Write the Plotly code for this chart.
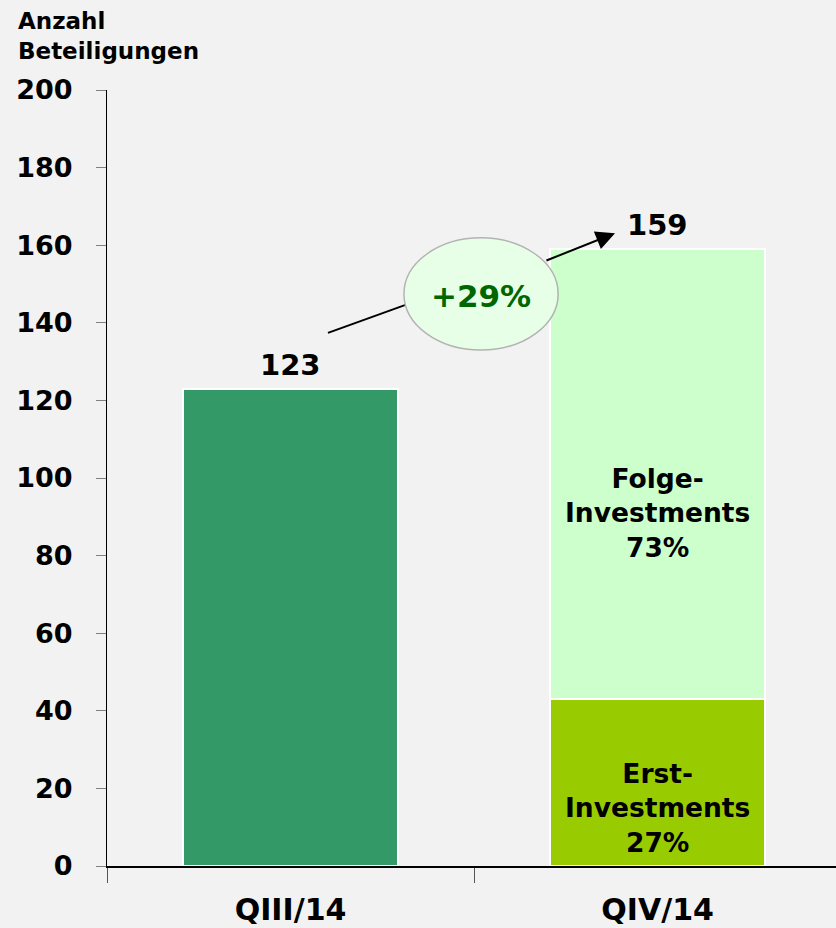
import plotly.graph_objects as go

categories = ["QIII/14", "QIV/14"]
total_q3 = [123]
erst_q4 = [43]
folge_q4 = [116]
totals = [123, 159]
erst_label = "Erst-<br>Investments<br>27%"
folge_label = "Folge-<br>Investments<br>73%"
growth_label = "+29%"
y_title = "Anzahl<br>Beteiligungen"

FONT = "DejaVu Sans, Verdana, sans-serif"
BG = "#f2f2f2"

fig = go.Figure()
fig.add_trace(go.Bar(x=[categories[0]], y=total_q3, width=0.586,
                     marker=dict(color="#339966", line=dict(color="white", width=2)),
                     hoverinfo="skip"))
fig.add_trace(go.Bar(x=[categories[1]], y=erst_q4, width=0.586,
                     marker=dict(color="#99cc00", line=dict(color="white", width=2)),
                     hoverinfo="skip"))
fig.add_trace(go.Bar(x=[categories[1]], y=folge_q4, width=0.586,
                     marker=dict(color="#ccffcc", line=dict(color="white", width=2)),
                     hoverinfo="skip"))

# totals above bars
for c, t in zip(categories, totals):
    fig.add_annotation(x=c, y=t, text=f"<b>{t}</b>", showarrow=False, yanchor="bottom",
                       yshift=5, font=dict(family=FONT, size=29, color="black"))

# inner labels
fig.add_annotation(x=categories[1], y=91, text="<b>" + folge_label + "</b>", showarrow=False,
                   font=dict(family=FONT, size=26.5, color="black"))
fig.add_annotation(x=categories[1], y=15, text="<b>" + erst_label + "</b>", showarrow=False,
                   font=dict(family=FONT, size=26.5, color="black"))

# arrow line (under ellipse)
fig.add_shape(type="line", xref="x", yref="y", x0=0.102, y0=137.4, x1=0.5, y1=151,
              line=dict(color="black", width=2), layer="above")
# ellipse
fig.add_shape(type="circle", xref="x", yref="y", x0=0.309, x1=0.729, y0=133, y1=161.9,
              fillcolor="#e6ffe6", line=dict(color="#b3b3b3", width=1.5), layer="above")
# arrow head segment
fig.add_annotation(x=0.884, y=163.1, ax=0.693, ay=155.9, axref="x", ayref="y",
                   xref="x", yref="y", text="", showarrow=True, arrowhead=2,
                   arrowsize=1.9, arrowwidth=2, arrowcolor="black", standoff=0)
fig.add_annotation(x=0.519, y=147, text="<b>" + growth_label + "</b>", showarrow=False,
                   font=dict(family=FONT, size=31, color="#006600"))

# axis title
fig.add_annotation(xref="paper", yref="paper", x=(16 - 107) / 729, y=1 + (90 - 6) / 776,
                   xanchor="left", yanchor="top", align="left",
                   text="<b>" + y_title + "</b>", showarrow=False,
                   font=dict(family=FONT, size=23, color="black"))

fig.update_layout(
    width=836, height=928,
    margin=dict(l=107, r=0, t=90, b=62),
    paper_bgcolor=BG, plot_bgcolor=BG,
    barmode="stack", bargap=0.414, showlegend=False,
    font=dict(family=FONT, color="black"),
    xaxis=dict(range=[-0.5, 1.486], tickson="boundaries", ticks="outside", ticklen=15,
               tickcolor="#555555", tickwidth=1, showline=True, linecolor="black", linewidth=1.5,
               tickfont=dict(family=FONT, size=30, color="black"), showgrid=False,
               tickprefix="<b>", ticksuffix="</b>", ticklabelstandoff=16, fixedrange=True),
    yaxis=dict(range=[0, 200], dtick=20, ticks="outside", ticklen=10, tickcolor="#808080",
               showline=True, linecolor="black", linewidth=1, showgrid=False, zeroline=False,
               tickfont=dict(family=FONT, size=27, color="black"),
               tickprefix="<b>", ticksuffix="</b>", ticklabelstandoff=18, fixedrange=True),
)

fig.write_html("out.html", config={"displayModeBar": False},
               post_script="document.body.style.margin='0';document.body.style.overflow='hidden';")
